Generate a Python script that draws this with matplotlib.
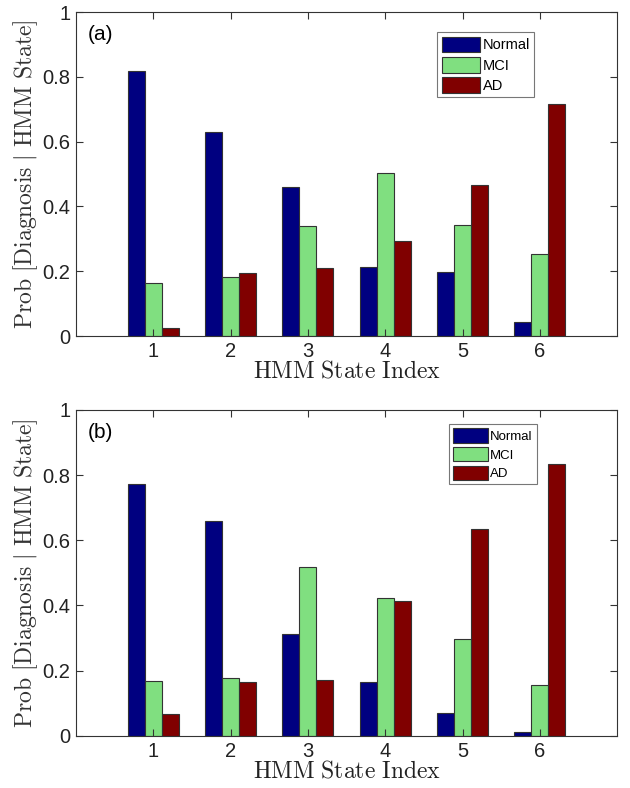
import numpy as np
import matplotlib
matplotlib.use("Agg")
import matplotlib.pyplot as plt

plt.rcParams['font.family'] = ['Liberation Sans', 'DejaVu Sans']
plt.rcParams['mathtext.fontset'] = 'cm'

states = [1, 2, 3, 4, 5, 6]
series_names = ["Normal", "MCI", "AD"]
colors = ["#000080", "#80df80", "#800000"]

# panel (a)
normal_a = [0.819, 0.631, 0.459, 0.214, 0.198, 0.042]
mci_a = [0.164, 0.181, 0.340, 0.502, 0.343, 0.252]
ad_a = [0.026, 0.193, 0.209, 0.292, 0.466, 0.715]

# panel (b)
normal_b = [0.771, 0.660, 0.313, 0.165, 0.070, 0.011]
mci_b = [0.168, 0.178, 0.517, 0.422, 0.296, 0.155]
ad_b = [0.066, 0.165, 0.171, 0.415, 0.633, 0.834]

fig = plt.figure(figsize=(6.3, 7.88), dpi=100)
ax_a = fig.add_axes([0.1206, 0.5736, 0.859, 0.411])
ax_b = fig.add_axes([0.1206, 0.066, 0.859, 0.414])

bw = 0.22
ylab = r'$\mathrm{Prob\ [Diagnosis\ |\ HMM\ State]}$'
xlab = r'$\mathrm{HMM\ State\ Index}$'

def draw(ax, vals, tag, leg_bbox, leg_size, spacing):
    x = np.array(states)
    for i, (name, v, c) in enumerate(zip(series_names, vals, colors)):
        ax.bar(x + (i - 1) * bw, v, width=bw, color=c, edgecolor="#333333",
               linewidth=0.8, label=name)
    ax.set_xlim(0, 7)
    ax.set_ylim(0, 1)
    ax.set_xticks(states)
    ax.set_yticks([0, 0.2, 0.4, 0.6, 0.8, 1])
    ax.set_yticklabels(["0", "0.2", "0.4", "0.6", "0.8", "1"])
    ax.tick_params(direction="in", length=5, top=True, right=True,
                   labelsize=14.5, pad=4, color="#333333", labelcolor="#222222")
    for s in ax.spines.values():
        s.set_color("#333333")
        s.set_linewidth(0.8)
    ax.set_ylabel(ylab, fontsize=17, color="#333333", labelpad=2)
    ax.set_xlabel(xlab, fontsize=17, color="#222222", labelpad=0)
    ax.text(0.022, 0.96, tag, transform=ax.transAxes, fontsize=15,
            va="top", ha="left")
    leg = ax.legend(loc="upper left", bbox_to_anchor=leg_bbox, fontsize=leg_size,
                    frameon=True, fancybox=False, edgecolor="#555555",
                    handlelength=2.6, handleheight=1.3, handletextpad=0.2,
                    labelspacing=spacing, borderpad=0.3, borderaxespad=0)
    leg.get_frame().set_linewidth(0.8)

draw(ax_a, [normal_a, mci_a, ad_a], "(a)", (0.668, 0.938), 10.5, 0.3)
draw(ax_b, [normal_b, mci_b, ad_b], "(b)", (0.690, 0.955), 9.5, 0.3)

fig.savefig("out.png", dpi=100)
